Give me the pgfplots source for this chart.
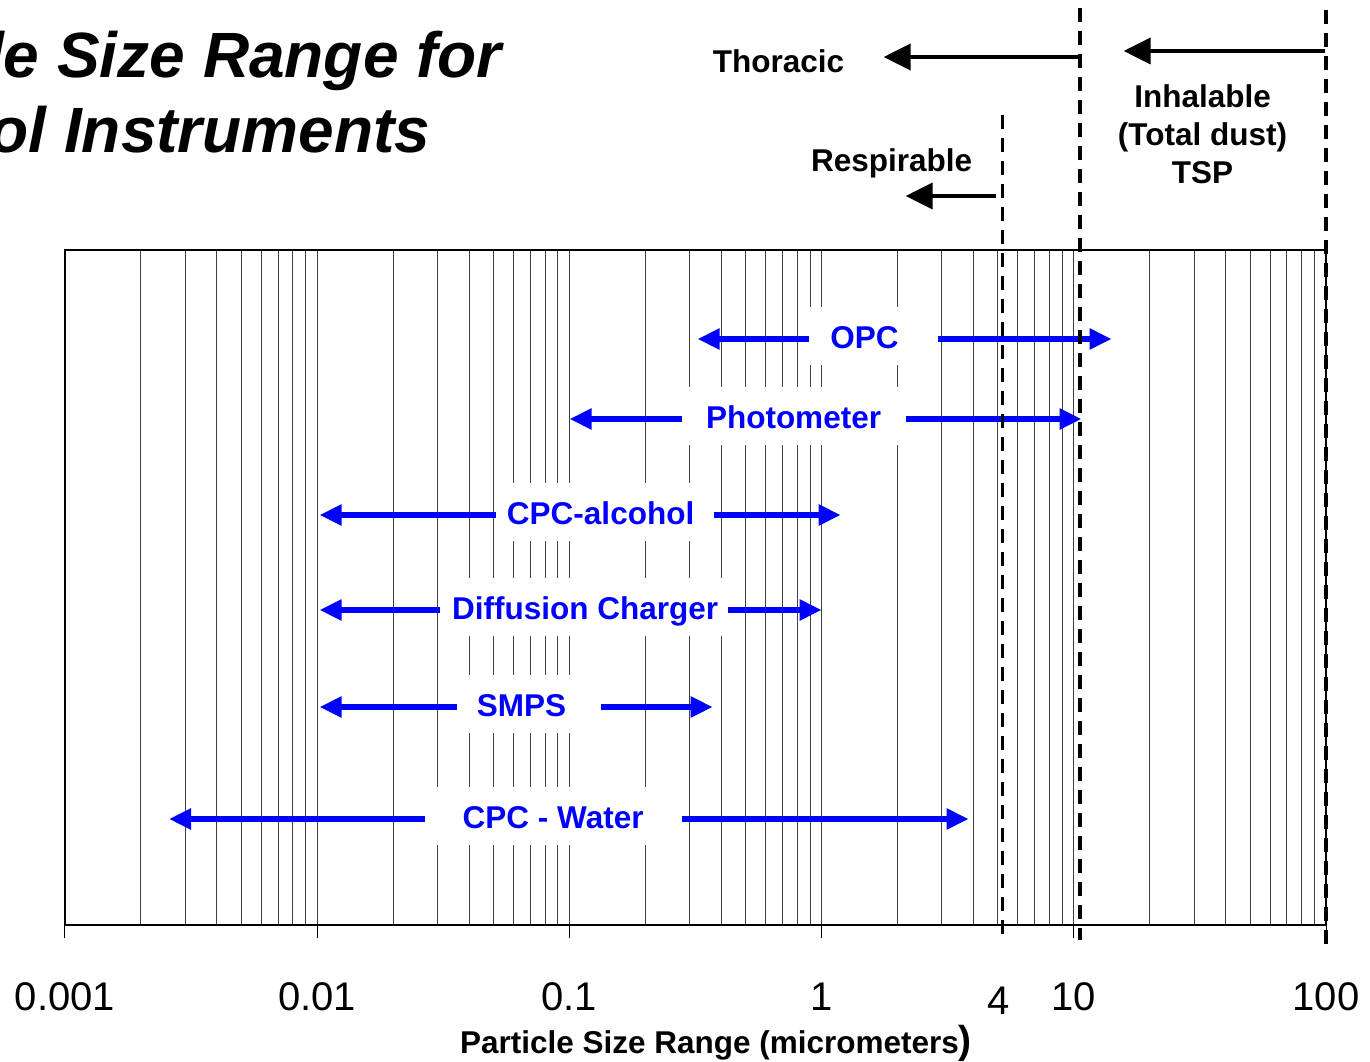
\documentclass[border=0pt]{standalone}
\usepackage{fontspec}
\setmainfont{Liberation Sans}
\usepackage{pgfplots}
\pgfplotsset{compat=1.18}
\usetikzlibrary{arrows.meta}

\begin{document}
\begin{tikzpicture}[x=1pt,y=1pt]
\useasboundingbox (0,0) rectangle (1370,1061);
\clip (0,0) rectangle (1370,1061);
\node[anchor=base west, inner sep=0pt, font=\fontsize{64}{78}\selectfont\bfseries\itshape] at (-192,983) {Particle Size Range for};
\node[anchor=base west, inner sep=0pt, font=\fontsize{64}{78}\selectfont\bfseries\itshape] at (-192,908) {Aerosol Instruments};
\begin{axis}[
  at={(65pt,136pt)}, anchor=south west,
  scale only axis, width=1261pt, height=675pt,
  xmode=log, xmin=0.001, xmax=100, ymin=0, ymax=675,
  ytick=\empty,
  xtick={0.001,0.01,0.1,1,10,100},
  xticklabels={0.001,0.01,0.1,1,10,100},
  xtick pos=left,
  tick align=outside,
  major tick length=13pt,
  minor tick length=0pt,
  xmajorgrids, xminorgrids,
  grid style={black!75, line width=0.9pt},
  axis line style={line width=1.2pt},
  every tick/.style={black, line width=1pt},
  tick label style={font=\fontsize{40}{48}\selectfont},
  xticklabel style={anchor=base, yshift=-72pt},
  /pgf/number format/assume math mode=true,
  clip=false,
  extra x ticks={5.03}, extra x tick labels={4},
  extra x tick style={grid=none, major tick length=0pt, xticklabel style={yshift=-17pt}},
  xlabel={Particle Size Range (micrometers{\fontsize{39}{39}\selectfont )}},
  xlabel style={font=\fontsize{31.5}{38}\selectfont\bfseries, at={(axis description cs:0.5,0)}, anchor=base, xshift=20.5pt, yshift=-128pt},
]
% white label backgrounds
\fill[white] (axis cs:0.888,560) rectangle (axis cs:2.884,618);
\fill[white] (axis cs:0.2786,480) rectangle (axis cs:2.154,538);
\fill[white] (axis cs:0.05096,384) rectangle (axis cs:0.3732,442);
\fill[white] (axis cs:0.0308,289) rectangle (axis cs:0.424,347);
\fill[white] (axis cs:0.0357,192) rectangle (axis cs:0.133,250);
\fill[white] (axis cs:0.02665,80) rectangle (axis cs:0.2786,138);

% instrument ranges (blue arrows)
\pgfplotsset{rng/.style={blue, line width=6pt, -{Triangle[length=22pt,width=20pt]}}}
\addplot[rng] coordinates {(0.888,586) (0.3223,586)};
\addplot[rng] coordinates {(2.884,586) (14.12,586)};
\addplot[rng] coordinates {(0.2786,506) (0.1002,506)};
\addplot[rng] coordinates {(2.154,506) (10.73,506)};
\addplot[rng] coordinates {(0.05096,410) (0.01022,410)};
\addplot[rng] coordinates {(0.3732,410) (1.19,410)};
\addplot[rng] coordinates {(0.0308,315) (0.01022,315)};
\addplot[rng] coordinates {(0.424,315) (1.0,315)};
\addplot[rng] coordinates {(0.0357,218) (0.01022,218)};
\addplot[rng] coordinates {(0.133,218) (0.370,218)};
\addplot[rng] coordinates {(0.02665,106) (0.002585,106)};
\addplot[rng] coordinates {(0.2786,106) (3.828,106)};

% size fraction boundaries (dashed)
\pgfplotsset{bnd/.style={black, line width=3.5pt, dash pattern=on 14pt off 9pt}}
\addplot[bnd] coordinates {(10.6,917) (10.6,-15)};
\addplot[bnd] coordinates {(5.22,810) (5.22,-15)};
\addplot[bnd] coordinates {(100,915) (100,-20)};

% size fraction arrows (black)
\pgfplotsset{frc/.style={black, line width=4pt, -{Triangle[length=27pt,width=26pt]}}}
\addplot[frc] coordinates {(10.73,868) (1.762,868)};
\addplot[frc] coordinates {(4.90,729) (2.154,729)};
\addplot[frc] coordinates {(98.75,874) (15.76,874)};

% labels
\tikzset{bl/.style={anchor=base, text=blue, inner sep=0pt, font=\fontsize{31.5}{38}\selectfont\bfseries},
         kl/.style={anchor=base, text=black, inner sep=0pt, font=\fontsize{31.5}{38}\selectfont\bfseries}}
\node[bl] at (axis cs:1.481,576.5) {OPC};
\node[bl] at (axis cs:0.774,496.5) {Photometer};
\node[bl] at (axis cs:0.1330,400.5) {CPC-alcohol};
\node[bl] at (axis cs:0.1154,305.5) {Diffusion Charger};
\node[bl] at (axis cs:0.0646,208.5) {SMPS};
\node[bl] at (axis cs:0.0862,96.5) {CPC - Water};

\node[kl] at (axis cs:0.675,852) {Thoracic};
\node[kl] at (axis cs:1.895,753) {Respirable};
\node[kl] at (axis cs:32.4,817) {Inhalable};
\node[kl] at (axis cs:32.4,779) {(Total dust)};
\node[kl] at (axis cs:32.4,741) {TSP};
\end{axis}
\end{tikzpicture}
\end{document}
